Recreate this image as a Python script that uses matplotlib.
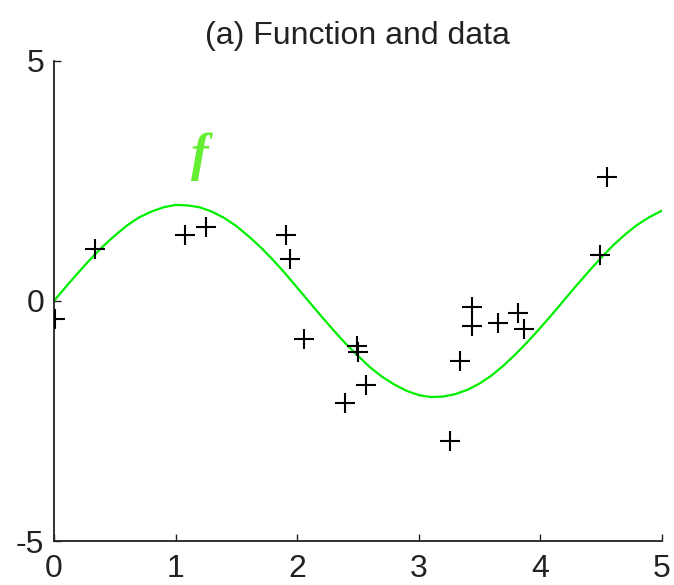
import matplotlib.pyplot as plt

plt.rcParams['font.family'] = ['Liberation Sans', 'DejaVu Sans']
plt.rcParams['axes.unicode_minus'] = False

curve_x = [i / 10 for i in range(51)]
curve_y = [0.00, 0.30, 0.59, 0.87, 1.13, 1.36, 1.57, 1.74, 1.86, 1.95,
           2.00, 1.99, 1.95, 1.86, 1.73, 1.56, 1.35, 1.12, 0.86, 0.58,
           0.28, -0.02, -0.32, -0.61, -0.89, -1.14, -1.38, -1.58, -1.74, -1.87,
           -1.96, -2.00, -1.99, -1.94, -1.85, -1.72, -1.55, -1.34, -1.10, -0.84,
           -0.56, -0.27, 0.03, 0.33, 0.62, 0.90, 1.16, 1.39, 1.59, 1.75,
           1.88]

# noisy observations
data_x = [0.01, 0.34, 1.08, 1.25, 1.91, 1.94, 2.06, 2.39, 2.49, 2.50,
          2.57, 3.26, 3.34, 3.44, 3.44, 3.65, 3.82, 3.87, 4.49, 4.55]
data_y = [-0.38, 1.08, 1.37, 1.54, 1.37, 0.88, -0.79, -2.12, -0.94, -1.07,
          -1.75, -2.91, -1.25, -0.12, -0.53, -0.45, -0.24, -0.59, 0.96, 2.59]

fig = plt.figure(figsize=(6.74, 5.85), dpi=100)
ax = fig.add_axes([0.080, 0.075, 0.902, 0.821])

ax.plot(curve_x, curve_y, color='#00ee00', lw=1.6, zorder=2)
ax.plot(data_x, data_y, '+', color='black', ms=15, mew=1.5, zorder=3)
ax.text(1.2, 3.0, 'f', color='#66ee33', fontsize=38, family='Liberation Serif',
        style='italic', weight='bold', ha='center', va='center')

ax.set_xlim(0, 5)
ax.set_ylim(-5, 5)
ax.set_xticks([0, 1, 2, 3, 4, 5])
ax.set_yticks([-5, 0, 5])
ax.tick_params(direction='in', length=5, width=1, labelsize=23, colors='#222222')
ax.tick_params(axis='y', pad=7)
ax.tick_params(axis='x', pad=9)
for s in ['top', 'right']:
    ax.spines[s].set_visible(False)
for s in ['left', 'bottom']:
    ax.spines[s].set_linewidth(1.3)
    ax.spines[s].set_color('#222222')

ax.set_title('(a) Function and data', fontsize=23, color='#222222', pad=12)

fig.savefig('out.png', dpi=100)
